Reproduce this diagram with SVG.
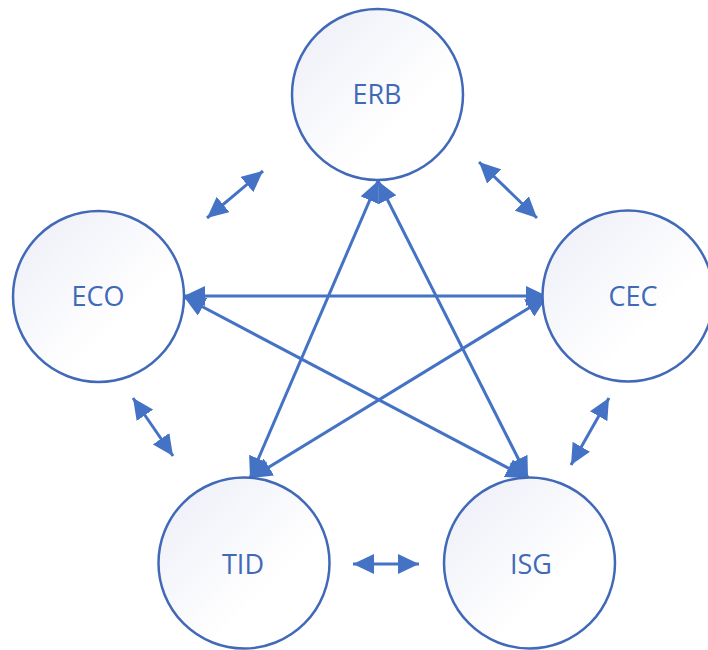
<svg xmlns="http://www.w3.org/2000/svg" width="708" height="650" viewBox="0 0 708 650">
  <style>
    .node circle { fill: url(#nodeFill); stroke: #4169B8; stroke-width: 2.5; }
    .node text { font-family: "Open Sans", "Liberation Sans", sans-serif; font-size: 27px; fill: #4169B8; text-anchor: middle; }
    .edge { stroke: #4472C4; stroke-width: 3; fill: none; marker-start: url(#head); marker-end: url(#head); }
  </style>
  <defs>
    <linearGradient id="nodeFill" x1="0" y1="0" x2="1" y2="1">
      <stop offset="0" stop-color="#ECEEF7"/>
      <stop offset="0.65" stop-color="#FFFFFF"/>
    </linearGradient>
    <marker id="head" markerUnits="userSpaceOnUse" markerWidth="21" markerHeight="20" refX="21" refY="10" orient="auto-start-reverse" viewBox="0 0 21 20">
      <path d="M0,0 L21,10 L0,20 Z" fill="#4472C4"/>
    </marker>
  </defs>

  <!-- connectors -->
  <g id="connectors">
    <line class="edge" x1="184" y1="296" x2="547" y2="296"/>
    <line class="edge" x1="184" y1="297" x2="527" y2="478"/>
    <line class="edge" x1="547" y1="297" x2="251" y2="478"/>
    <line class="edge" x1="378" y1="181" x2="250" y2="478"/>
    <line class="edge" x1="378" y1="181" x2="528" y2="478"/>
    <line class="edge" x1="207" y1="218" x2="263" y2="171"/>
    <line class="edge" x1="479" y1="162" x2="537" y2="218"/>
    <line class="edge" x1="133" y1="398" x2="173" y2="456"/>
    <line class="edge" x1="609" y1="398" x2="571" y2="465"/>
    <line class="edge" x1="353" y1="564" x2="419" y2="564"/>
  </g>

  <!-- nodes -->
  <g id="ERB" class="node">
    <circle cx="377.5" cy="94.5" r="85.5"/>
    <text x="377" y="104">ERB</text>
  </g>
  <g id="ECO" class="node">
    <circle cx="98.5" cy="296.5" r="85.5"/>
    <text x="98" y="306">ECO</text>
  </g>
  <g id="CEC" class="node">
    <circle cx="628" cy="296" r="85.5"/>
    <text x="633" y="306">CEC</text>
  </g>
  <g id="TID" class="node">
    <circle cx="244" cy="563" r="85.5"/>
    <text x="243" y="574">TID</text>
  </g>
  <g id="ISG" class="node">
    <circle cx="529.5" cy="563" r="85.5"/>
    <text x="531" y="574">ISG</text>
  </g>
</svg>
